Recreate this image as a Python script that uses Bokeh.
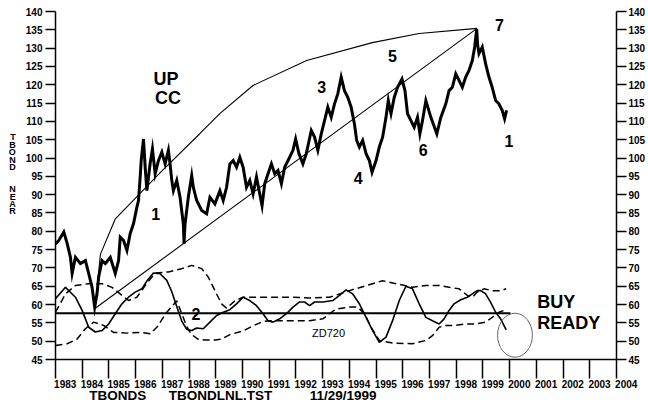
from bokeh.plotting import figure
from bokeh.models import Range1d, LinearAxis, FixedTicker, Label
from bokeh.embed import file_html
from bokeh.resources import INLINE

FONT = "Liberation Sans"
NBSP = "\u00a0"

# ---------------- data ----------------
years = list(range(1983, 2005))
y_ticks = list(range(45, 145, 5))

price_year = [
    1983.000, 1983.123, 1983.310, 1983.436, 1983.559, 1983.623, 1983.746, 1983.932, 1984.119, 1984.242,
    1984.369, 1984.466, 1984.555, 1984.615, 1984.742, 1984.865, 1985.051, 1985.238, 1985.361, 1985.424,
    1985.548, 1985.674, 1985.797, 1985.921, 1986.047, 1986.107, 1986.170, 1986.208, 1986.294, 1986.357,
    1986.420, 1986.543, 1986.629, 1986.730, 1986.853, 1986.980, 1987.103, 1987.226, 1987.289, 1987.353,
    1987.413, 1987.539, 1987.662, 1987.786, 1987.812, 1987.849, 1987.972, 1988.099, 1988.159, 1988.285,
    1988.472, 1988.658, 1988.781, 1988.968, 1989.154, 1989.278, 1989.404, 1989.527, 1989.651, 1989.777,
    1989.900, 1990.023, 1990.150, 1990.273, 1990.397, 1990.523, 1990.646, 1990.732, 1990.833, 1990.956,
    1991.083, 1991.206, 1991.329, 1991.456, 1991.579, 1991.765, 1991.889, 1991.989, 1992.112, 1992.261,
    1992.388, 1992.575, 1992.698, 1992.821, 1992.948, 1993.071, 1993.194, 1993.321, 1993.444, 1993.567,
    1993.694, 1993.817, 1993.940, 1994.067, 1994.190, 1994.275, 1994.376, 1994.499, 1994.626, 1994.749,
    1994.850, 1994.999, 1995.122, 1995.245, 1995.372, 1995.458, 1995.559, 1995.682, 1995.805, 1995.969,
    1996.081, 1996.178, 1996.305, 1996.428, 1996.551, 1996.640, 1996.737, 1996.864, 1997.051, 1997.274,
    1997.424, 1997.610, 1997.733, 1997.856, 1997.983, 1998.106, 1998.229, 1998.356, 1998.479, 1998.602,
    1998.692, 1998.767, 1998.800, 1998.852, 1998.975, 1999.102, 1999.225, 1999.348, 1999.475, 1999.598,
    1999.721, 1999.811, 1999.885,
]
price_value = [
    76.5, 77.5, 79.8, 76.7, 72.9, 68.5, 72.9, 71.2, 72.0, 68.5,
    64.7, 59.3, 63.0, 67.5, 72.0, 71.2, 72.9, 68.5, 72.0, 78.4,
    77.5, 74.8, 79.4, 82.1, 86.6, 88.4, 94.8, 99.3, 105.2, 97.5,
    91.1, 98.5, 102.5, 95.7, 99.3, 101.6, 98.4, 102.1, 98.4, 93.9,
    91.1, 93.9, 89.3, 82.0, 76.6, 82.0, 89.3, 95.2, 92.0, 88.4,
    85.7, 84.8, 89.3, 87.5, 91.1, 88.4, 92.0, 98.4, 99.3, 97.5,
    100.2, 97.5, 92.0, 93.9, 90.2, 94.8, 90.2, 87.0, 93.0, 95.7,
    98.4, 95.7, 96.6, 93.0, 97.5, 100.2, 102.1, 105.2, 101.2, 98.4,
    101.2, 107.5, 105.7, 102.1, 106.6, 110.2, 113.9, 111.1, 114.8, 117.5,
    122.1, 118.4, 116.6, 113.9, 109.3, 104.8, 103.0, 104.8, 101.2, 99.3,
    96.1, 99.3, 103.0, 105.7, 111.1, 115.7, 112.1, 116.6, 119.3, 121.6,
    118.4, 112.1, 110.2, 108.4, 111.1, 106.6, 110.2, 115.7, 111.1, 106.6,
    111.1, 114.8, 118.4, 119.3, 123.0, 121.2, 119.3, 122.1, 123.9, 126.6,
    130.3, 135.2, 131.0, 128.5, 130.3, 125.7, 122.1, 119.3, 115.7, 114.8,
    113.0, 110.7, 113.0,
]

osc_year = [
    1983.000, 1983.373, 1983.746, 1983.996, 1984.242, 1984.492, 1984.742, 1984.988, 1985.238, 1985.488,
    1985.734, 1985.984, 1986.234, 1986.420, 1986.667, 1986.916, 1987.166, 1987.353, 1987.539, 1987.726,
    1987.912, 1988.099, 1988.285, 1988.532, 1988.781, 1989.031, 1989.278, 1989.527, 1989.777, 1990.023,
    1990.273, 1990.523, 1990.769, 1990.956, 1991.142, 1991.392, 1991.642, 1991.889, 1992.138, 1992.325,
    1992.511, 1992.698, 1993.008, 1993.380, 1993.630, 1993.880, 1994.127, 1994.376, 1994.626, 1994.872,
    1995.122, 1995.372, 1995.618, 1995.868, 1996.118, 1996.364, 1996.614, 1996.864, 1997.110, 1997.360,
    1997.547, 1997.733, 1997.920, 1998.170, 1998.416, 1998.602, 1998.789, 1998.916, 1999.102, 1999.289,
    1999.475, 1999.662, 1999.871,
]
osc_value = [
    61.6, 64.7, 62.0, 58.4, 53.8, 52.5, 52.9, 54.7, 57.5, 60.2,
    62.0, 63.4, 64.3, 66.4, 68.6, 68.4, 66.6, 63.5, 59.5, 55.5,
    53.2, 52.9, 53.6, 53.4, 55.2, 57.0, 57.9, 58.6, 60.2, 62.0,
    61.1, 59.7, 57.5, 55.6, 55.2, 56.1, 57.5, 59.3, 60.7, 60.7,
    59.7, 60.7, 60.7, 61.1, 62.5, 64.0, 62.9, 60.2, 56.5, 52.9,
    49.7, 51.1, 55.6, 61.1, 65.0, 64.3, 60.2, 56.5, 55.6, 54.7,
    56.1, 58.4, 60.2, 61.3, 62.0, 62.9, 63.8, 63.8, 62.9, 60.6,
    57.9, 56.1, 53.1,
]

upper_year = [
    1983.000, 1983.373, 1983.746, 1984.242, 1984.742, 1985.115, 1985.488, 1985.734, 1986.047, 1986.357,
    1986.730, 1987.226, 1987.726, 1988.099, 1988.472, 1988.718, 1988.968, 1989.218, 1989.404, 1989.714,
    1990.023, 1990.646, 1991.765, 1992.511, 1993.257, 1994.003, 1994.872, 1995.245, 1995.745, 1996.364,
    1996.864, 1997.360, 1997.733, 1998.106, 1998.416, 1998.602, 1998.789, 1999.039, 1999.348, 1999.662,
    1999.871,
]
upper_value = [
    57.9, 62.9, 65.2, 65.7, 65.7, 64.7, 62.5, 61.1, 62.0, 65.2,
    68.6, 68.9, 69.8, 70.7, 69.8, 67.5, 63.8, 60.2, 59.0, 61.0,
    62.0, 62.0, 62.0, 61.8, 62.0, 63.8, 65.7, 66.5, 65.7, 64.7,
    65.2, 65.2, 64.7, 64.3, 62.5, 62.0, 63.4, 64.3, 63.8, 63.8,
    64.3,
]

lower_year = [
    1983.000, 1983.436, 1983.809, 1984.119, 1984.429, 1984.802, 1985.175, 1985.674, 1986.170, 1986.543,
    1986.793, 1987.166, 1987.539, 1987.726, 1987.912, 1988.099, 1988.345, 1988.595, 1988.968, 1989.229,
    1989.527, 1990.023, 1990.396, 1990.769, 1991.019, 1991.765, 1992.511, 1993.008, 1993.257, 1993.507,
    1994.003, 1994.313, 1994.563, 1994.813, 1995.122, 1995.618, 1996.364, 1996.864, 1997.110, 1997.360,
    1997.610, 1997.983, 1998.356, 1998.729, 1999.102, 1999.348, 1999.598, 1999.785,
]
lower_value = [
    48.8, 49.3, 50.6, 53.4, 55.2, 54.3, 52.4, 52.2, 52.4, 52.0,
    53.8, 57.9, 61.0, 57.5, 54.0, 51.8, 50.5, 50.3, 50.3, 50.6,
    51.8, 52.8, 54.2, 55.4, 55.6, 55.6, 55.6, 56.1, 57.5, 58.8,
    59.3, 59.3, 57.5, 53.8, 50.2, 49.5, 49.3, 50.2, 51.5, 53.8,
    54.3, 54.3, 54.7, 54.7, 55.2, 56.5, 57.9, 58.4,
]

# "UP CC" arc and the straight trend line from the 1984 low to the 1998 high
arc_year = [1984.49, 1984.68, 1985.24, 1986.92, 1988.41, 1989.15, 1990.39, 1992.40, 1994.86, 1996.61, 1998.78]
arc_value = [59.2, 73.7, 83.4, 96.0, 106.7, 112.1, 119.8, 126.6, 131.5, 134.0, 135.4]
trend_year = [1984.49, 1998.78]
trend_value = [59.0, 135.4]

# signal level line and the circled area
signal_year = [1983.0, 2000.03]
signal_value = [57.6, 57.6]
circle_center = (2000.2, 51.63)
circle_size = (1.305, 12.0)

# annotations
wave_text = ["1", "3", "4", "5", "6", "7", "1", "2"]
wave_x = [1986.75, 1992.96, 1994.33, 1995.61, 1996.76, 1999.62, 1999.97, 1988.26]
wave_y = [84.8, 119.5, 94.5, 127.8, 102.1, 136.2, 104.6, 57.3]

big_text = ["UP", "CC"]
big_x = [1987.14, 1987.21]
big_y = [121.6, 116.3]

signal_text = ["BUY", "READY"]
signal_x = [2001.03, 2001.03]
signal_y = [60.64, 55.1]

ylabel_words = ["TBOND", "NEAR"]
footer_text = ["TBONDS", "TBONDLNL.TST", "11/29/1999"]

# ---------------- figure ----------------
p = figure(width=648, height=406, x_range=Range1d(1983, 2004), y_range=Range1d(45, 140),
           output_backend="svg", toolbar_location=None,
           min_border_left=55, min_border_right=30, min_border_top=11, min_border_bottom=47)
p.outline_line_color = None
p.grid.visible = False
p.background_fill_color = "white"
p.border_fill_color = "white"


def style_y(ax, standoff):
    ax.ticker = FixedTicker(ticks=y_ticks)
    ax.major_tick_out = 10
    ax.major_tick_in = 0
    ax.minor_tick_out = 0
    ax.minor_tick_in = 0
    ax.axis_line_width = 1.5
    ax.major_tick_line_width = 1.5
    ax.axis_line_color = "black"
    ax.major_tick_line_color = "black"
    ax.major_label_text_font = FONT
    ax.major_label_text_font_style = "bold"
    ax.major_label_text_font_size = "10px"
    ax.major_label_text_color = "black"
    ax.major_label_standoff = standoff


ya = p.yaxis[0]
style_y(ya, 3)
# stacked upright letters: two blank lines between the words, three padding lines below to lift the block
ya.axis_label = "\n".join(list(ylabel_words[0]) + [NBSP, NBSP] + list(ylabel_words[1]) + [NBSP, NBSP, NBSP])
ya.axis_label_orientation = "horizontal"
ya.axis_label_text_font = FONT
ya.axis_label_text_font_style = "bold"
ya.axis_label_text_font_size = "9px"
ya.axis_label_text_line_height = 0.74
ya.axis_label_text_color = "black"
ya.axis_label_standoff = 7

yr = LinearAxis()
style_y(yr, 2)
p.add_layout(yr, "right")

xa = p.xaxis[0]
xa.ticker = FixedTicker(ticks=years)
xa.major_tick_out = 19
xa.major_tick_in = 0
xa.minor_tick_out = 0
xa.minor_tick_in = 0
xa.axis_line_width = 1.5
xa.major_tick_line_width = 1.5
xa.axis_line_color = "black"
xa.major_tick_line_color = "black"
# year labels sit between the ticks: leading no-break spaces move each label right of its tick
xa.major_label_overrides = {y: NBSP * 7 + str(y) for y in years}
xa.major_label_standoff = 0
xa.major_label_text_font = FONT
xa.major_label_text_font_style = "bold"
xa.major_label_text_font_size = "10px"
xa.major_label_text_color = "black"
xa.axis_label = footer_text[0] + NBSP * 6 + footer_text[1] + NBSP * 10 + footer_text[2] + NBSP * 55
xa.axis_label_text_font = FONT
xa.axis_label_text_font_style = "bold"
xa.axis_label_text_font_size = "13.5px"
xa.axis_label_text_color = "black"
xa.axis_label_standoff = -5

# ---------------- glyphs ----------------
p.line(upper_year, upper_value, line_color="black", line_width=1.5, line_dash="7 4")
p.line(lower_year, lower_value, line_color="black", line_width=1.5, line_dash="7 4")
p.line(signal_year, signal_value, line_color="black", line_width=2)
p.line(osc_year, osc_value, line_color="black", line_width=1.6)
p.line(arc_year, arc_value, line_color="black", line_width=1.1)
p.line(trend_year, trend_value, line_color="black", line_width=1.1)
p.line(price_year, price_value, line_color="black", line_width=3.0, line_join="miter")
p.ellipse(x=[circle_center[0]], y=[circle_center[1]], width=[circle_size[0]], height=[circle_size[1]],
          fill_color=None, line_color="#555555", line_width=0.9)


# ---------------- texts inside the frame ----------------
def labels(xs, ys, texts, size, style="bold", align="center", baseline="middle"):
    for x, y, t in zip(xs, ys, texts):
        p.add_layout(Label(x=x, y=y, text=t, text_align=align, text_baseline=baseline,
                           text_font=FONT, text_font_style=style, text_font_size=size,
                           text_color="black"))


labels(wave_x, wave_y, wave_text, "16px")
labels(big_x, big_y, big_text, "18px")
labels(signal_x, signal_y, signal_text, "18px", align="left")
labels([1993.22], [52.15], ["ZD720"], "11px", style="normal")

open("out.html", "w").write(file_html(p, INLINE))
